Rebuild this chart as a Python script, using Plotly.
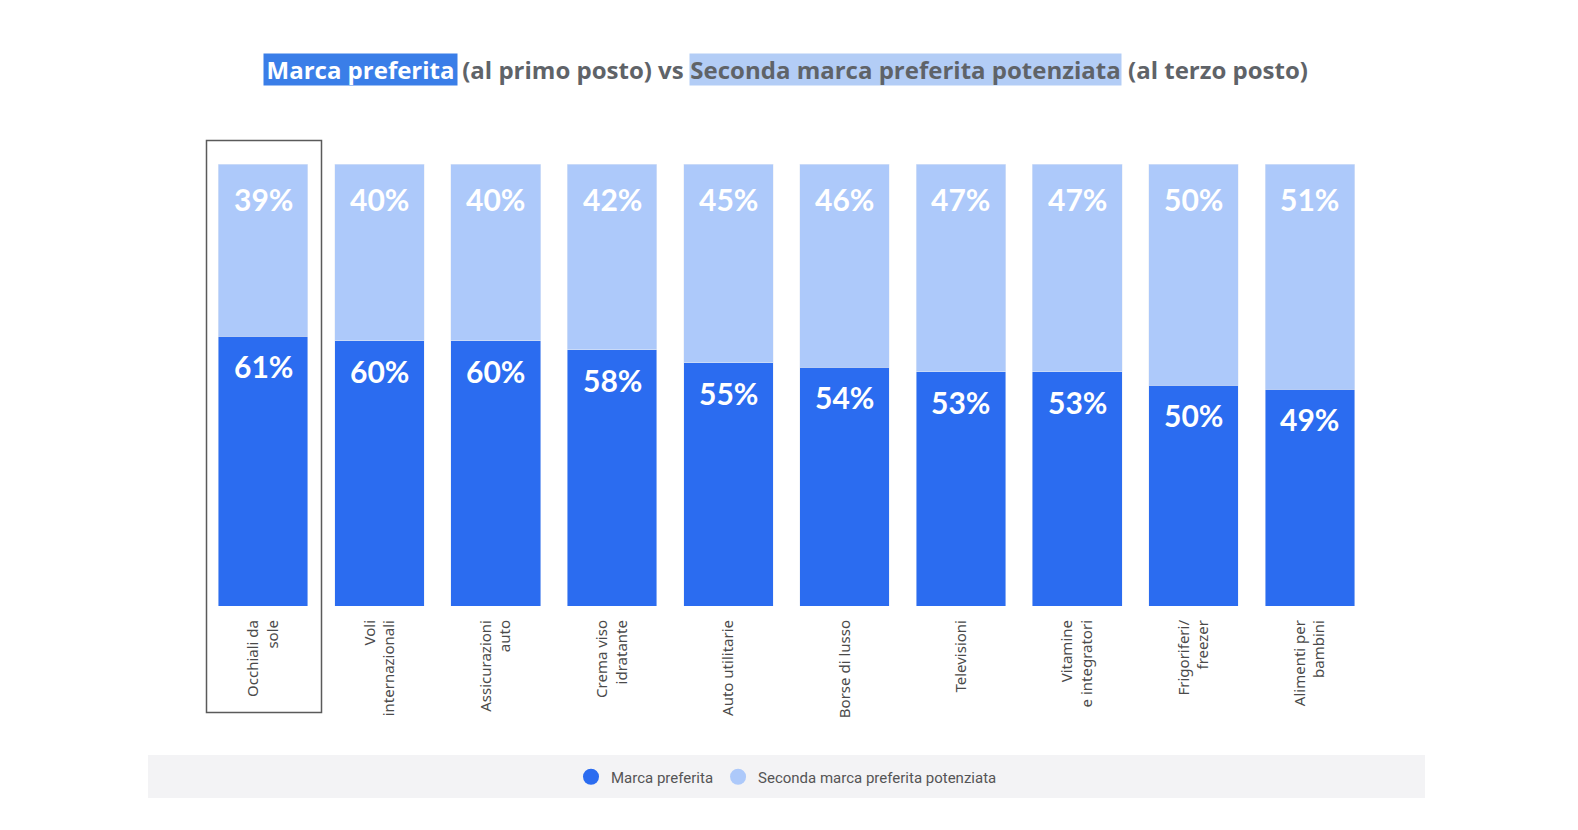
import plotly.graph_objects as go

categories = ["Occhiali da<br>sole", "Voli<br>internazionali", "Assicurazioni<br>auto",
              "Crema viso<br>idratante", "Auto utilitarie", "Borse di lusso", "Televisioni",
              "Vitamine<br>e integratori", "Frigoriferi/<br>freezer", "Alimenti per<br>bambini"]
marca_preferita = [61, 60, 60, 58, 55, 54, 53, 53, 50, 49]
seconda_marca = [39, 40, 40, 42, 45, 46, 47, 47, 50, 51]

DARK = "#2b6cf0"
LIGHT = "#adc9fa"
GRAY = "#5f6368"

W, H = 1578, 830
ML, MR, MT, MB = 205, 210, 164, 224
PW = W - ML - MR
PH = H - MT - MB

def px_x(p):
    return (p - ML) / PW

def px_y(p):
    return (H - MB - p) / PH

fig = go.Figure()
fig.add_trace(go.Bar(x=categories, y=marca_preferita, marker_color=DARK, width=0.77,
                     showlegend=False, hoverinfo="skip"))
fig.add_trace(go.Bar(x=categories, y=seconda_marca, marker_color=LIGHT, width=0.77,
                     showlegend=False, hoverinfo="skip"))
# legend entries with circle markers
fig.add_trace(go.Scatter(x=[None], y=[None], mode="markers", name="Marca preferita",
                         marker=dict(color=DARK, size=16, symbol="circle")))
fig.add_trace(go.Scatter(x=[None], y=[None], mode="markers", name="Seconda marca preferita potenziata",
                         marker=dict(color=LIGHT, size=16, symbol="circle")))

annotations = []
label_font = dict(family="Lato, 'Open Sans', sans-serif", size=30, color="white", weight="bold")
for c, d, l in zip(categories, marca_preferita, seconda_marca):
    annotations.append(dict(x=c, y=d + l, xref="x", yref="y", text=f"{l}%", showarrow=False,
                            yanchor="top", yshift=-15, font=label_font))
    annotations.append(dict(x=c, y=d, xref="x", yref="y", text=f"{d}%", showarrow=False,
                            yanchor="top", yshift=-10, font=label_font))

# title segments
title_font_w = dict(family="'Open Sans', sans-serif", size=24, color="white", weight="bold")
title_font_g = dict(family="'Open Sans', sans-serif", size=24, color=GRAY, weight="bold")
segments = [
    ("Marca preferita", 263, 458, title_font_w, "#3a7ee8"),
    ("(al primo posto) vs", 460, 686, title_font_g, "rgba(0,0,0,0)"),
    ("Seconda marca preferita potenziata", 689, 1122, title_font_g, "#b3cdf6"),
    ("(al terzo posto)", 1124, 1312, title_font_g, "rgba(0,0,0,0)"),
]
for text, x0, x1, f, bg in segments:
    annotations.append(dict(x=px_x((x0 + x1) / 2), y=px_y(69), xref="paper", yref="paper",
                            text=text, showarrow=False, xanchor="center", yanchor="middle",
                            width=x1 - x0 - 2, height=31, bgcolor=bg, borderpad=0,
                            font=f, align="center"))

shapes = [
    # legend band
    dict(type="rect", xref="paper", yref="paper", x0=px_x(148), x1=px_x(1425),
         y0=px_y(798), y1=px_y(755), fillcolor="#f3f3f5", line=dict(width=0), layer="below"),
    # highlight box around first category
    dict(type="rect", xref="paper", yref="paper", x0=px_x(206.5), x1=px_x(321.5),
         y0=px_y(712.5), y1=px_y(140.5), line=dict(color="#5a5a5a", width=1.5),
         fillcolor="rgba(0,0,0,0)"),
]

fig.update_layout(
    width=W, height=H,
    barmode="stack",
    bargap=0.23,
    margin=dict(l=ML, r=MR, t=MT, b=MB),
    paper_bgcolor="white", plot_bgcolor="white",
    xaxis=dict(tickangle=-90, showgrid=False, showline=False, ticks="", ticklen=0,
               ticklabelstandoff=10,
               tickfont=dict(family="'Noto Sans', sans-serif", size=15, color="#4a4a4a"),
               automargin=False),
    yaxis=dict(range=[0, 100], visible=False),
    legend=dict(orientation="h", x=0.5, xanchor="center", y=px_y(777), yanchor="middle",
                traceorder="normal",
                bgcolor="rgba(0,0,0,0)", font=dict(family="Roboto, sans-serif", size=15, color="#555"),
                itemwidth=30, tracegroupgap=0),
    annotations=annotations,
    shapes=shapes,
)

post = ("document.body.style.margin='0';"
        "document.body.style.height='830px';"
        "document.body.style.overflow='hidden';"
        "document.documentElement.style.overflow='hidden';"
        "document.documentElement.style.height='830px';")
fig.write_html("out.html", post_script=post, config={"displayModeBar": False})
